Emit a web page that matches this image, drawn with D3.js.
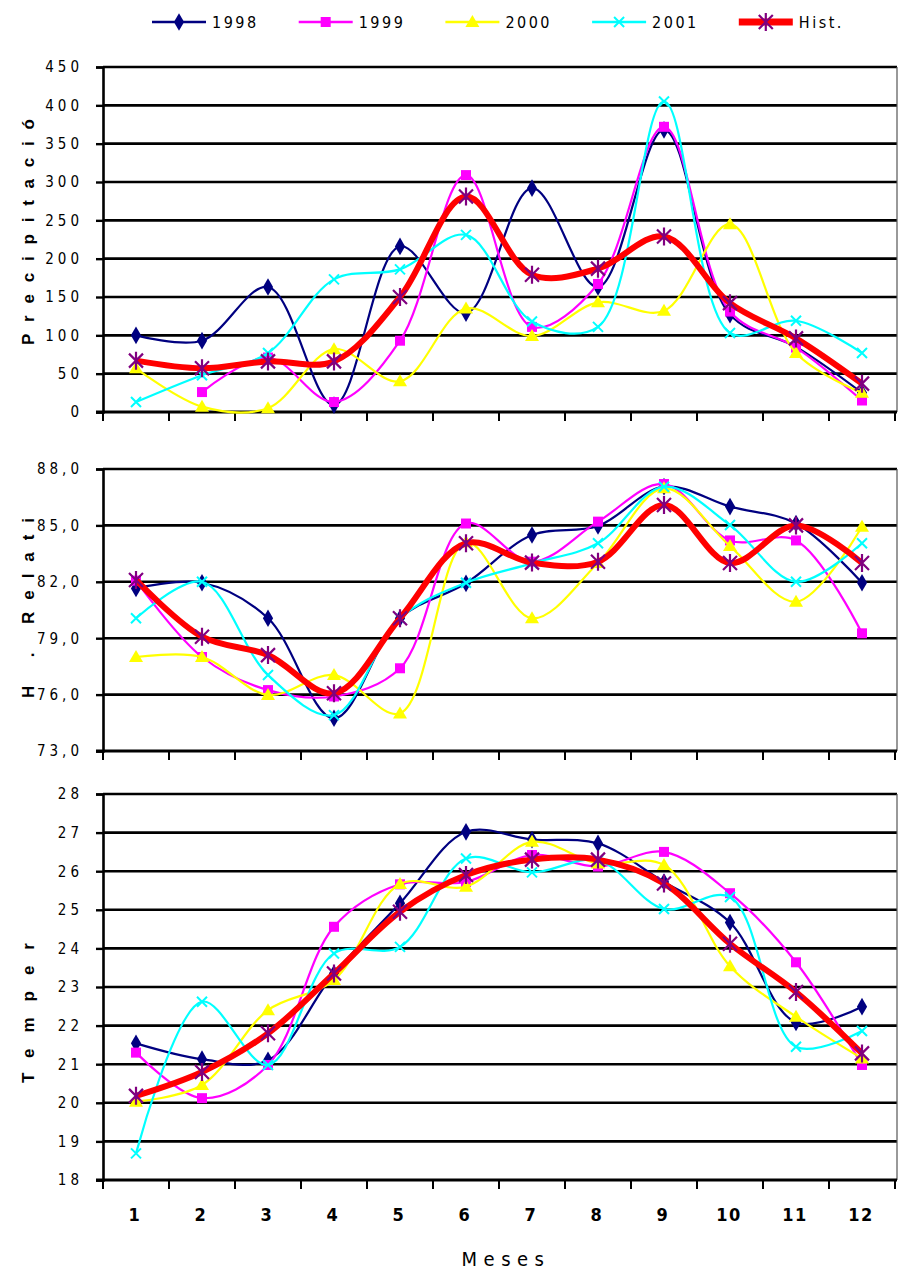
<!DOCTYPE html>
<html>
<head>
<meta charset="utf-8">
<script src="https://cdn.jsdelivr.net/npm/d3@7"></script>
<style>
  body { margin: 0; background: #fff; }
  text { font-family: "Liberation Sans Narrow", "Arial Narrow", "DejaVu Sans Condensed", sans-serif; }
</style>
</head>
<body>
<script>
// meses
const months = ["1", "2", "3", "4", "5", "6", "7", "8", "9", "10", "11", "12"];
const seriesNames = ["1998", "1999", "2000", "2001", "Hist."];

// Precipitación (mm)
const precip1998 = [100, 93, 163, 9, 216, 129, 292, 163, 368, 127, 85, 25];
const precip1999 = [null, 26, 71, 13, 93, 309, 111, 167, 372, 131, 84, 15];
const precip2000 = [57, 7, 5, 82, 40, 135, 99, 143, 132, 245, 77, 25];
const precip2001 = [13, 48, 77, 173, 186, 231, 118, 111, 405, 103, 119, 77];
const precipHist = [67, 57, 66, 66, 150, 281, 179, 187, 229, 142, 96, 37];

// Humedad relativa (%)
const hr1998 = [81.65, 81.95, 80.06, 74.74, 80.06, 81.92, 84.49, 84.97, 87.06, 86.0, 85.1, 81.95];
const hr1999 = [82.06, 78.0, 76.24, 75.9, 77.4, 85.1, 83.07, 85.2, 87.2, 84.2, 84.2, 79.26];
const hr2000 = [78.0, 78.0, 75.98, 77.04, 75.0, 84.1, 80.06, 83.0, 86.97, 83.9, 80.94, 84.93];
const hr2001 = [80.06, 82.0, 77.04, 74.91, 80.06, 81.95, 82.98, 84.05, 87.06, 85.02, 82.0, 84.05];
const hrHist = [82.1, 79.08, 78.1, 76.07, 80.06, 84.05, 83.02, 83.07, 86.09, 83.0, 85.0, 83.0];

// Temperatura (°C)
const temp1998 = [21.54, 21.13, 21.1, 23.35, 25.17, 27.02, 26.82, 26.72, 25.72, 24.67, 22.08, 22.49];
const temp1999 = [21.3, 20.12, 20.98, 24.56, 25.66, 25.72, 26.42, 26.12, 26.5, 25.43, 23.64, 20.98];
const temp2000 = [20.03, 20.46, 22.4, 23.18, 25.67, 25.6, 26.76, 26.2, 26.16, 23.54, 22.23, 21.15];
const temp2001 = [18.69, 22.62, 20.98, 23.87, 24.04, 26.33, 25.97, 26.28, 25.02, 25.33, 21.45, 21.86];
const tempHist = [20.18, 20.8, 21.8, 23.35, 24.95, 25.9, 26.3, 26.3, 25.68, 24.12, 22.87, 21.28];

const colors = ["#000080", "#ff00ff", "#ffff00", "#00ffff", "#ff0000"];

const W = 910, H = 1283;
const left = 103, right = 895;

const svg = d3.select("body").append("svg")
  .attr("width", W)
  .attr("height", H);

const x = d3.scaleBand().domain(months).range([left, right]);
const xc = m => x(m) + x.bandwidth() / 2;

const comma1 = v => d3.format(".1f")(v).replace(".", ",");

const panels = [
  { title: "Precipitació", min: 0, max: 450, step: 50, top: 67, bottom: 412, fmt: d3.format("d"),
    titleY: 232, titleLen: 226,
    data: [precip1998, precip1999, precip2000, precip2001, precipHist] },
  { title: "H . Relati", min: 73, max: 88, step: 3, top: 469, bottom: 751, fmt: comma1,
    titleY: 608, titleLen: 180,
    data: [hr1998, hr1999, hr2000, hr2001, hrHist] },
  { title: "Temper", min: 18, max: 28, step: 1, top: 794, bottom: 1180, fmt: d3.format("d"),
    titleY: 1013, titleLen: 140,
    data: [temp1998, temp1999, temp2000, temp2001, tempHist] }
];

// marker shapes
function marker(g, i, px, py) {
  if (i === 0) {
    g.append("path").attr("d", d3.symbol(d3.symbolDiamond, 90)())
      .attr("transform", `translate(${px},${py})`).attr("fill", colors[0]);
  } else if (i === 1) {
    g.append("rect").attr("x", px - 5).attr("y", py - 5).attr("width", 10).attr("height", 10)
      .attr("fill", colors[1]);
  } else if (i === 2) {
    g.append("path").attr("d", `M${px},${py - 7}L${px + 7},${py + 5}L${px - 7},${py + 5}Z`)
      .attr("fill", colors[2]);
  } else if (i === 3) {
    g.append("path").attr("d", `M${px - 5},${py - 5}L${px + 5},${py + 5}M${px - 5},${py + 5}L${px + 5},${py - 5}`)
      .attr("stroke", colors[3]).attr("stroke-width", 2);
  } else {
    g.append("path")
      .attr("d", `M${px - 7},${py - 7}L${px + 7},${py + 7}M${px - 7},${py + 7}L${px + 7},${py - 7}M${px},${py - 9}L${px},${py + 9}`)
      .attr("stroke", "#800080").attr("stroke-width", 2.2);
  }
}

panels.forEach(p => {
  const g = svg.append("g");
  const y = d3.scaleLinear().domain([p.min, p.max]).range([p.bottom, p.top]);
  const ticks = d3.range(p.min, p.max + p.step / 2, p.step);

  // lineas de cuadricula
  g.selectAll("line.grid")
    .data(ticks.slice(1))
    .join("line")
    .attr("x1", left).attr("x2", 897)
    .attr("y1", d => y(d)).attr("y2", d => y(d))
    .attr("stroke", "#000").attr("stroke-width", 2.6);

  // borde derecho
  g.append("line")
    .attr("x1", 897).attr("x2", 897).attr("y1", p.top).attr("y2", p.bottom)
    .attr("stroke", "#555").attr("stroke-width", 1.2);

  // eje Y
  const yAxis = g.append("g")
    .attr("transform", `translate(${left},0)`)
    .call(d3.axisLeft(y).tickValues(ticks).tickSize(7).tickPadding(17).tickFormat(p.fmt));
  yAxis.select(".domain").attr("stroke-width", 2.6);
  yAxis.selectAll(".tick line").attr("stroke-width", 2.4);
  yAxis.selectAll(".tick text")
    .attr("font-size", 15)
    .attr("letter-spacing", 4)
    .attr("dx", 4)
    .attr("fill", "#000");

  // eje X
  g.append("line")
    .attr("x1", left - 7).attr("x2", 897).attr("y1", p.bottom).attr("y2", p.bottom)
    .attr("stroke", "#000").attr("stroke-width", 2.8);
  g.selectAll("line.xtick")
    .data(months.map(m => x(m)).concat([right]))
    .join("line")
    .attr("x1", d => d).attr("x2", d => d)
    .attr("y1", p.bottom).attr("y2", p.bottom + 9)
    .attr("stroke", "#000").attr("stroke-width", 2);

  // titulo eje Y
  g.append("text")
    .attr("transform", `translate(34,${p.titleY}) rotate(-90)`)
    .attr("text-anchor", "middle")
    .style("font-family", "'Liberation Sans', Arial, sans-serif")
    .attr("font-weight", "bold")
    .attr("font-size", 17)
    .attr("textLength", p.titleLen)
    .attr("lengthAdjust", "spacing")
    .text(p.title);

  // series
  p.data.forEach((vals, i) => {
    const line = d3.line()
      .defined(v => v != null)
      .x((v, j) => xc(months[j]))
      .y(v => y(v))
      .curve(d3.curveCatmullRom.alpha(0.5));
    g.append("path")
      .datum(vals)
      .attr("d", line)
      .attr("fill", "none")
      .attr("stroke", colors[i])
      .attr("stroke-width", i === 4 ? 6 : 2.2)
      .attr("stroke-linejoin", "round");
    const mg = g.append("g");
    vals.forEach((v, j) => {
      if (v != null) marker(mg, i, xc(months[j]), y(v));
    });
  });
});

// etiquetas del eje X (panel inferior)
svg.append("g").selectAll("text")
  .data(months)
  .join("text")
  .attr("x", d => xc(d) - 1)
  .attr("y", 1221)
  .attr("text-anchor", "middle")
  .attr("font-weight", "bold")
  .attr("font-size", 18)
  .attr("letter-spacing", 1.5)
  .text(d => d);

svg.append("text")
  .attr("x", 506)
  .attr("y", 1266)
  .attr("text-anchor", "middle")
  .attr("font-size", 20)
  .attr("letter-spacing", 6.5)
  .text("Meses");

// leyenda
const legend = svg.append("g");
seriesNames.forEach((s, i) => {
  const lx = 152 + i * 146.7;
  legend.append("line")
    .attr("x1", lx).attr("x2", lx + 54).attr("y1", 22).attr("y2", 22)
    .attr("stroke", colors[i]).attr("stroke-width", i === 4 ? 7 : 2.5);
  marker(legend, i, lx + 27, 22);
  legend.append("text")
    .attr("x", lx + 60).attr("y", 28)
    .attr("font-size", 16)
    .attr("letter-spacing", 2.5)
    .text(s);
});
</script>
</body>
</html>
